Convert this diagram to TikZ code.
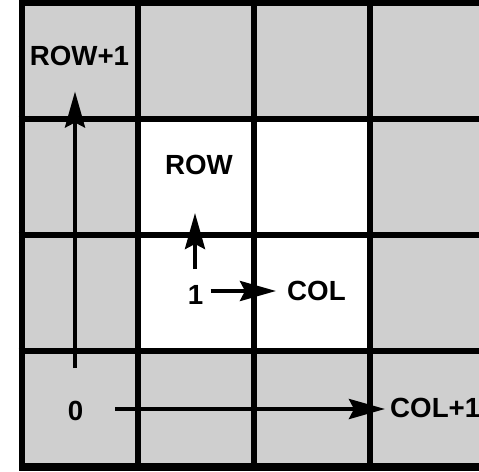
\documentclass[tikz,border=0pt]{standalone}
\usepackage{fontspec}
\setmainfont{Liberation Sans}
\usetikzlibrary{arrows.meta}
\definecolor{cellgrey}{RGB}{207,207,207}
\begin{document}
\begin{tikzpicture}[x=1pt,y=-1pt,
    gridline/.style={line width=6pt},
    label/.style={inner sep=0pt,font=\fontsize{27.7}{30}\selectfont\bfseries},
    arrowline/.style={line width=4pt,-{Stealth[length=36pt,width=20pt,inset=5pt]}}]
  \useasboundingbox (0,0) rectangle (479,471);
  \clip (0,0) rectangle (479,471);
  % cells: grey background with a white 2x2 block in the middle
  \fill[cellgrey] (21.5,3) rectangle (485.5,466);
  \fill[white] (137.5,119) rectangle (369.5,350.5);
  % grid lines
  \draw[gridline] (21.5,3) rectangle (485.5,466);
  \foreach \x in {137.5,253.7,369.5}
    \draw[gridline] (\x,0) -- (\x,466);
  \foreach \y in {119,235,350.5}
    \draw[gridline] (18.5,\y) -- (479,\y);
  % heavy bottom edge running to the lower border
  \fill (18.5,463) rectangle (479,471);
  % labels
  \node[label] (rowp1) at (79.5,55.5) {ROW+1};
  \node[label] (zero) at (75.5,411) {0};
  \node[label,anchor=west] (colp1) at (390,408) {COL+1};
  \node[label] (row) at (199,164.5) {ROW};
  \node[label] (one) at (195.5,294.5) {1};
  \node[label,anchor=west] (col) at (287,291) {COL};
  % arrow end points
  \coordinate (vstart) at (75,368);
  \coordinate (vend) at (75,91.5);
  \coordinate (hstart) at (115,409);
  \coordinate (hend) at (385,409);
  \coordinate (ustart) at (195,269);
  \coordinate (uend) at (195,213);
  \coordinate (rstart) at (210.7,291);
  \coordinate (rend) at (276,291);
  % arrows
  \draw[arrowline] (vstart) -- (vend);
  \draw[arrowline] (hstart) -- (hend);
  \draw[arrowline] (ustart) -- (uend);
  \draw[arrowline] (rstart) -- (rend);
\end{tikzpicture}
\end{document}
